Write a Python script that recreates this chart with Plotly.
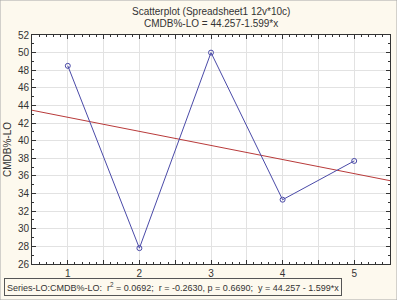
import plotly.graph_objects as go

x_vals = [1, 2, 3, 4, 5]
y_vals = [48.5, 27.8, 50.0, 33.3, 37.7]
fit_intercept = 44.257
fit_slope = -1.599
x_range = [0.5, 5.5]
y_range = [26, 52]
x_tickvals = [0.5, 1, 1.5, 2, 2.5, 3, 3.5, 4, 4.5, 5, 5.5]
x_ticktext = ["", "1", "", "2", "", "3", "", "4", "", "5", ""]
title_lines = ["Scatterplot (Spreadsheet1 12v*10c)", "CMDB%-LO = 44.257-1.599*x"]
y_title = "CMDB%-LO"
legend_text = "Series-LO:CMDB%-LO:  r<sup>2</sup> = 0.0692;  r = -0.2630, p = 0.6690;  y = 44.257 - 1.599*x"

FONT = "Liberation Sans, Arial, sans-serif"
BG = "#fdf9ee"

fit_x = list(x_range)
fit_y = [fit_intercept + fit_slope * v for v in fit_x]

fig = go.Figure()
fig.add_trace(go.Scatter(x=fit_x, y=fit_y, mode="lines",
                         line=dict(color="#b83a3a", width=1), hoverinfo="skip"))
fig.add_trace(go.Scatter(x=x_vals, y=y_vals, mode="lines+markers",
                         line=dict(color="#4a4aa8", width=1),
                         marker=dict(symbol="circle-open", size=5, color="#4a4aa8",
                                     line=dict(width=1))))

axis_common = dict(showline=True, linecolor="#333333", linewidth=1, mirror="ticks",
                   ticks="inside", tickcolor="#333333", ticklen=4,
                   showgrid=True, gridcolor="#e2e2e2", gridwidth=1, zeroline=False,
                   tickfont=dict(family=FONT, size=10, color="#333333"))

fig.update_xaxes(range=x_range, tickmode="array", tickvals=x_tickvals, ticktext=x_ticktext,
                 minor=dict(dtick=0.1, ticks="inside", ticklen=2, tickcolor="#333333",
                            showgrid=False),
                 **axis_common)
fig.update_yaxes(range=y_range, dtick=2, tick0=26,
                 title=dict(text=y_title, font=dict(family=FONT, size=10, color="#333333"),
                            standoff=4),
                 minor=dict(dtick=1, ticks="inside", ticklen=2, tickcolor="#333333",
                            showgrid=False),
                 **axis_common)

fig.update_layout(
    width=397, height=300,
    margin=dict(l=32, r=7, t=35, b=36),
    paper_bgcolor=BG, plot_bgcolor="white",
    showlegend=False,
    font=dict(family=FONT, size=10, color="#333333"),
)

fig.add_annotation(text=title_lines[0], xref="paper", yref="paper", x=0.5, y=1,
                   yshift=24, showarrow=False, yanchor="middle",
                   font=dict(family=FONT, size=10, color="#333333"))
fig.add_annotation(text=title_lines[1], xref="paper", yref="paper", x=0.5, y=1,
                   yshift=12, showarrow=False, yanchor="middle",
                   font=dict(family=FONT, size=10, color="#333333"))
fig.add_annotation(text=legend_text, xref="paper", yref="paper", x=-32/358, y=0,
                   xshift=4, yshift=-14, xanchor="left", yanchor="top", showarrow=False,
                   bordercolor="#555555", borderwidth=1, borderpad=2, bgcolor=BG,
                   font=dict(family=FONT, size=9, color="#333333"))

fig.add_shape(type="rect", xref="paper", yref="paper",
              x0=-32/358, x1=1 + 7/358, y0=-36/229, y1=1 + 35/229,
              line=dict(color="#a8a8a8", width=1))

fig.write_html("out.html")
